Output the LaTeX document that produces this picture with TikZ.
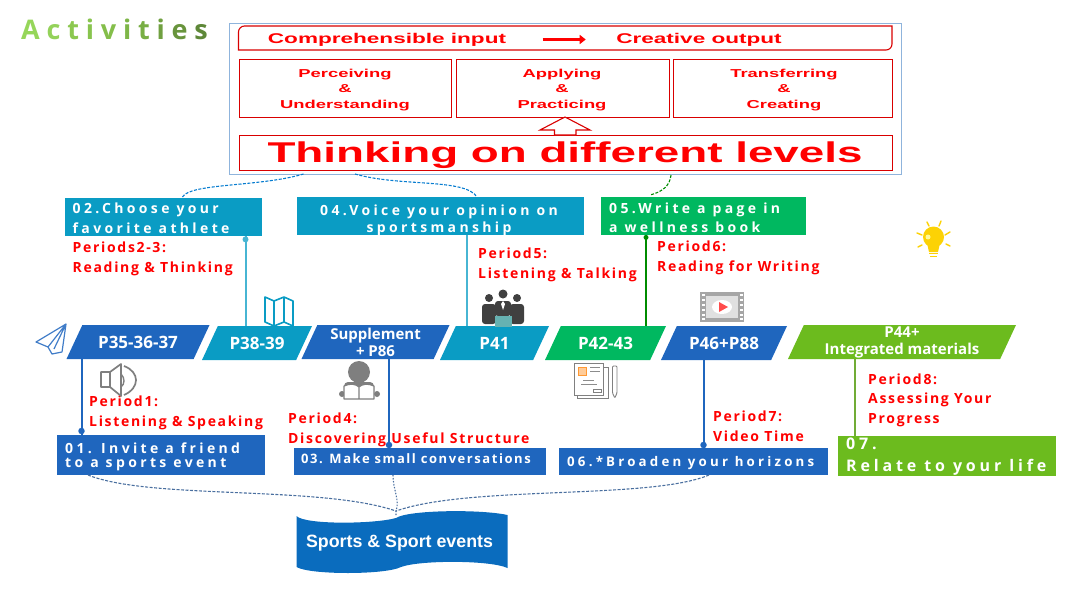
\documentclass[tikz,border=0pt]{standalone}
\usepackage{fontspec}
\usepackage{tikz}
\usetikzlibrary{shapes, arrows.meta, positioning, calc}
\newfontfamily\widefont[FakeStretch=1.6]{Liberation Sans}
\newfontfamily\titlefont{Open Sans}
\newfontfamily\taskfont[LetterSpace=24]{Open Sans}
\newfontfamily\tighttaskfont[LetterSpace=12]{Open Sans}
\newfontfamily\periodfont[LetterSpace=12]{Open Sans}
\newfontfamily\pagefont{Open Sans}
\setmainfont{Liberation Sans}
\definecolor{barblue}{HTML}{1F66BE}
\definecolor{barcyan}{HTML}{0A9CC4}
\definecolor{bargreen}{HTML}{00B860}
\definecolor{barlime}{HTML}{6CBB1E}
\definecolor{bookblue}{HTML}{0A6CBE}
\definecolor{framecol}{HTML}{8FB4DC}
\definecolor{linkcol}{HTML}{4A6F9F}
\definecolor{icongray}{HTML}{7F7F7F}
\newcommand{\titleletter}[2]{\textcolor[HTML]{#1}{#2}\kern6.8pt}
\begin{document}
\begin{tikzpicture}[
  x=1pt, y=-1pt,
  pagebar/.style={trapezium, trapezium left angle=65, trapezium right angle=115, trapezium stretches body=true,
    inner sep=0pt, text height=23pt, text depth=11pt, minimum width=#1, text=white,
    font=\pagefont\bfseries\fontsize{17}{19}\selectfont},
  pagetext/.style={text=white, align=center, inner sep=0pt, font=\pagefont\bfseries\fontsize{15}{17}\selectfont},
  taskbox/.style={inner sep=0pt, anchor=north west},
  tasktext/.style={text=white, anchor=west, inner sep=0pt, font=\taskfont\bfseries\fontsize{14}{16}\selectfont},
  periodtext/.style={text=red, anchor=west, align=left, inner sep=0pt, font=\periodfont\bfseries\fontsize{14}{19.5}\selectfont},
  redbox/.style={draw=red!85!black, line width=1.1pt, inner sep=0pt},
  redtext/.style={text=red, align=center, font=\widefont\bfseries\fontsize{11.5}{15.5}\selectfont},
  stem/.style={line width=2pt},
  dot/.style={circle, fill, inner sep=0pt, minimum size=6.5pt},
  linkdash/.style={line width=1.1pt, dash pattern=on 3pt off 1.5pt}
]
  \useasboundingbox (0,0) rectangle (1080,608);

  \node[font=\titlefont\bfseries\fontsize{27}{27}\selectfont, anchor=west, inner sep=0pt] (title) at (21,29)
    {\titleletter{96D65A}{A}\titleletter{94D25A}{c}\titleletter{8CC850}{t}\titleletter{88C44E}{i}\titleletter{84BE4A}{v}\titleletter{7EB648}{i}\titleletter{78AE44}{t}\titleletter{70A040}{i}\titleletter{68943C}{e}\titleletter{5E8838}{s}};

  % levels panel
  \node[draw=framecol, line width=1.4pt, inner sep=0pt, minimum width=672pt, minimum height=151pt, anchor=north west] (panel) at (229,23) {};
  \draw[redbox] (244.5,26) -- (892,26) -- (892,44) arc[start angle=0, end angle=90, radius=6] -- (238.5,50) -- (238.5,32) arc[start angle=180, end angle=270, radius=6] -- cycle;
  \node[redtext, font=\widefont\bfseries\fontsize{14.1}{16}\selectfont] (input) at (387,39.5) {Comprehensible input};
  \node[redtext, font=\widefont\bfseries\fontsize{14.1}{16}\selectfont] (output) at (699,39.5) {Creative output};
  \draw[-{Triangle[length=6pt,width=9pt]}, red, line width=3.5pt, shorten <=33pt, shorten >=27pt] (input) -- (output);

  \node[redbox, minimum width=212pt, minimum height=58pt, anchor=north west] (perceive) at (238.5,59) {};
  \node[redbox, minimum width=213pt, minimum height=58pt, anchor=north west] (apply) at (456,59) {};
  \node[redbox, minimum width=219pt, minimum height=58pt, anchor=north west] (transfer) at (673,59) {};
  \node[redtext] at (345,90) {Perceiving\\\&\\Understanding};
  \node[redtext] at (562,90) {Applying\\\&\\Practicing};
  \node[redtext] at (784,90) {Transferring\\\&\\Creating};

  \node[redbox, minimum width=653.5pt, minimum height=35pt, anchor=north west] (think) at (238.5,135) {};
  \node[text=red, font=\widefont\bfseries\fontsize{28.6}{28.6}\selectfont] (thinktext) at (565,155) {Thinking on different levels};
  \coordinate (hollow) at (565,117);
  \draw[red!85!black, line width=1.1pt, fill=white] (hollow) -- ++(25,13) -- ++(-14,0) -- ++(0,5) -- ++(-21.5,0) -- ++(0,-5) -- ++(-14.5,0) -- cycle;

  % task boxes
  \node[taskbox, fill=barcyan, minimum width=197pt, minimum height=38pt] (task2) at (65,198) {};
  \node[tasktext] at (72.5,210) {02.Choose your};
  \node[tasktext] at (72.5,228.5) {favorite athlete};
  \node[taskbox, fill=barcyan, minimum width=287pt, minimum height=38pt] (task4) at (297,197) {};
  \node[tasktext, anchor=center] at (439,212) {04.Voice your opinion on};
  \node[tasktext, anchor=center] at (439,229) {sportsmanship};
  \node[taskbox, fill=bargreen, minimum width=205pt, minimum height=38pt] (task5) at (601,197) {};
  \node[tasktext] at (609,210) {05.Write a page in};
  \node[tasktext] at (609,227) {a wellness book};
  \node[taskbox, fill=barblue, minimum width=208pt, minimum height=40pt] (task1) at (56.5,435) {};
  \node[tasktext] at (65,448.5) {01. Invite a friend};
  \node[tasktext] at (65,465) {to a sports event};
  \node[taskbox, fill=barblue, minimum width=252pt, minimum height=27pt] (task3) at (293.5,448) {};
  \node[tasktext, font=\tighttaskfont\bfseries\fontsize{13}{15}\selectfont] at (301,459) {03. Make small conversations};
  \node[taskbox, fill=barblue, minimum width=269pt, minimum height=27pt] (task6) at (558.5,448) {};
  \node[tasktext, font=\taskfont\bfseries\fontsize{13.3}{15}\selectfont] at (567,463) {06.*Broaden your horizons};
  \node[taskbox, fill=barlime, minimum width=218pt, minimum height=40pt] (task7) at (838,436) {};
  \node[tasktext, font=\taskfont\bfseries\fontsize{16}{17}\selectfont] at (846,444) {07.};
  \node[tasktext, font=\taskfont\bfseries\fontsize{16}{17}\selectfont] at (846,467) {Relate to your life};

  % page bars
  \node[pagebar=143pt, fill=barblue] (page1) at (138,342) {P35-36-37};
  \node[pagebar=110pt, fill=barcyan] (page2) at (257,343) {P38-39};
  \node[pagebar=148pt, fill=barblue] (page3) at (375.5,342) {};
  \node[pagetext] at (375.5,342) {Supplement\\+ P86};
  \node[pagebar=109pt, fill=barcyan] (page4) at (494.5,343) {P41};
  \node[pagebar=121pt, fill=bargreen] (page5) at (605.5,343) {P42-43};
  \node[pagebar=126pt, fill=barblue] (page6) at (724,343) {P46+P88};
  \node[pagebar=228pt, fill=barlime] (page7) at (902,342) {};
  \node[pagetext] at (902,342) {P44+\\Integrated materials};

  % stems
  \coordinate (stem1) at (81.5,400);
  \coordinate (stem2) at (245.5,280);
  \coordinate (stem3) at (389,400);
  \coordinate (stem4) at (467,280);
  \coordinate (stem5) at (646,280);
  \coordinate (stem6) at (703.5,400);
  \coordinate (stem7) at (855,400);
  \draw[stem, color=barblue] (page1.south -| stem1) -- (task1.north -| stem1);
  \draw[stem, color=barcyan!75!white] (task2.south -| stem2) -- (page2.north -| stem2);
  \draw[stem, color=barblue] (page3.south -| stem3) -- (task3.north -| stem3);
  \draw[stem, color=barcyan!75!white] (task4.south -| stem4) -- (page4.north -| stem4);
  \draw[stem, color=green!55!black] (task5.south -| stem5) -- (page5.north -| stem5);
  \draw[stem, color=barblue] (page6.south -| stem6) -- (task6.north -| stem6);
  \draw[stem, color=barlime!75!gray] (page7.south -| stem7) -- (task7.north -| stem7);
  \node[dot, color=barblue] (dot1) at ($(task1.north -| stem1)+(0,-4)$) {};
  \node[dot, color=barcyan!75!white, minimum size=6pt] (dot2) at ($(task2.south -| stem2)+(0,3)$) {};
  \node[dot, color=barblue] (dot3) at ($(task3.north -| stem3)+(0,-3)$) {};
  \node[dot, color=green!55!black, minimum size=5pt] (dot5) at ($(task5.south -| stem5)+(0,2)$) {};
  \node[dot, color=barblue] (dot6) at ($(task6.north -| stem6)+(0,-3)$) {};

  % period labels
  \node[periodtext] (period23) at (72.5,259) {Periods2-3:\\Reading \& Thinking};
  \node[periodtext] (period5) at (478,265) {Period5:\\Listening \& Talking};
  \node[periodtext] (period6) at (657,258) {Period6:\\Reading for Writing};
  \node[periodtext] (period1) at (89,413) {Period1:\\Listening \& Speaking};
  \node[periodtext] (period4) at (288,430) {Period4:\\Discovering Useful Structure};
  \node[periodtext] (period7) at (713,426) {Period7:\\Video Time};
  \node[periodtext] (period8) at (868,400) {Period8:\\Assessing Your\\Progress};

  % links to the panel
  \coordinate (panelA) at (303.5,174);
  \coordinate (panelB) at (355,174);
  \coordinate (panelC) at (671,175);
  \coordinate (task2top) at (182.5,197);
  \coordinate (task4top) at (477,197);
  \coordinate (task5top) at (650,195);
  \draw[linkdash, color=barcyan!80!blue] (task2top) .. controls (190,183) and (260,187) .. (panelA);
  \draw[linkdash, color=barcyan!80!blue] (panelB) .. controls (400,187) and (465,178) .. (task4top);
  \draw[linkdash, color=green!55!black] (panelC) .. controls (670,186) and (662,192) .. (task5top);

  % book
  \draw[fill=bookblue, draw=none] (296.5,516) .. controls (305,525) and (375,524) .. (396,518)
    .. controls (408,510) and (480,509) .. (507.5,515) -- (507.5,568)
    .. controls (490,560) and (420,560) .. (401,567) .. controls (385,575) and (310,575) .. (296.5,567) -- cycle;
  \node[text=white, font=\bfseries\fontsize{17.8}{18}\selectfont] (book) at (399.5,543.5) {Sports \& Sport events};
  \coordinate (bookjoin) at (396,511);
  \coordinate (booktip) at (396,516);
  \coordinate (foot1) at (88,475);
  \coordinate (foot3) at (393,475);
  \coordinate (foot6) at (709,475);
  \draw[linkdash, color=linkcol] (foot1) .. controls (150,500) and (320,485) .. (bookjoin);
  \draw[linkdash, color=linkcol] (foot6) .. controls (650,500) and (470,485) .. (bookjoin);
  \draw[linkdash, dash pattern=on 1.5pt off 1.5pt, color=linkcol] (foot3) .. controls (393,490) and (400,500) .. (bookjoin) -- (booktip);

  % plane
  \draw[barblue!85!white, line width=1.2pt, line join=round] (66,324) -- (36,342) -- (48,347) -- (52,354) -- (62,352) -- cycle (66,324) -- (48,347) (66,324) -- (54,349);
  % speaker
  \draw[icongray, line width=1.7pt, line join=round] (101,372) -- (110,372) -- (121,364) -- (121,396) -- (110,387) -- (101,387) -- cycle (110,372) -- (110,387);
  \draw[icongray, line width=1.4pt] (121,374) .. controls (125,378) and (125,384) .. (121,387);
  \draw[icongray, line width=1.7pt] (124,366) .. controls (140,372) and (140,388) .. (124,395);
  % map
  \draw[barcyan, line width=1.6pt, line join=round] (265,297) -- (274,301) -- (284,297) -- (293,301) -- (293,326) -- (284,322) -- (274,326) -- (265,322) -- cycle (274,301) -- (274,326) (284,297) -- (284,322);
  % reader
  \fill[icongray] (359,372) circle (11);
  \fill[icongray, rounded corners=4pt] (344,382) rectangle (374,396);
  \fill[icongray] (342,394) circle (3) (377,394) circle (3);
  \draw[icongray, fill=white, line width=1.2pt, line join=round] (344,386) .. controls (350,383) and (356,384) .. (359,387) .. controls (362,384) and (368,383) .. (374,386) -- (374,399) -- (344,399) -- cycle (359,387) -- (359,399);
  % people
  \fill[black!75] (503,294) circle (4.5) (489,298) circle (4) (517,298) circle (4);
  \fill[black!75, rounded corners=3pt] (482,304) rectangle (496,324) (510,304) rectangle (524,324) (495,301) rectangle (511,316);
  \fill[white] (503,301) -- (501,304) -- (503,310) -- (505,304) -- cycle;
  \fill[teal!60!white] (495,316) rectangle (512,327);
  % film
  \fill[black!35] (700,292) rectangle (744,322);
  \fill[black!12] (706,296) rectangle (738,318);
  \fill[white] (722,307) ellipse (10 and 7);
  \fill[red!70!white] (719,302) -- (728,307) -- (719,312) -- cycle;
  \foreach \filmy in {295,300,305,310,315,319} {
    \fill[white] (701.5,\filmy-1) rectangle (704.5,\filmy+1);
    \fill[white] (739.5,\filmy-1) rectangle (742.5,\filmy+1);
  }
  % document and pencil
  \draw[black!50, line width=0.9pt, fill=white] (577,367) rectangle (608,398);
  \draw[black!50, line width=0.9pt, fill=white] (574.5,363.5) rectangle (603,395);
  \draw[orange!80!white, fill=orange!40!white, line width=0.7pt] (578,367) rectangle (586,375);
  \draw[black!45, line width=0.8pt] (590,367) -- (600,367) (590,371) -- (600,371) (583,380) -- (594,380) (581,384) -- (597,384);
  \draw[black!50, line width=0.8pt] (593,389) rectangle (601,392.5);
  \draw[black!50, line width=0.9pt, rounded corners=1pt] (612.5,366) -- (617,366) -- (617,393) -- (614.8,398) -- (612.5,393) -- cycle;
  % bulb
  \fill[yellow!70!orange] (933.5,237) circle (10.5);
  \fill[yellow!70!orange] (927,243) -- (940,243) -- (938,252) -- (929,252) -- cycle;
  \fill[yellow!40!white] (928,237) circle (2.5);
  \draw[yellow!70!orange, line width=1.5pt] (929,253.5) -- (938,253.5) (930,256.5) -- (937,256.5);
  \draw[yellow!70!orange, line width=1.4pt, line cap=round] (927,222) -- (929,226) (941,221) -- (939,226) (917,233) -- (922,235) (950,232) -- (945,235) (918,247) -- (922,245) (950,246) -- (946,244);
\end{tikzpicture}
\end{document}
